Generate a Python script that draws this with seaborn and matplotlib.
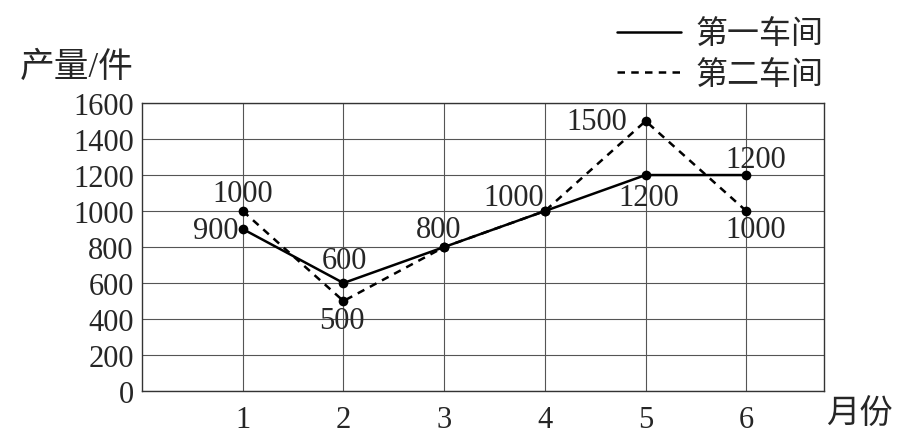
import matplotlib
matplotlib.use("Agg")
import matplotlib.pyplot as plt
import seaborn as sns
import pandas as pd
from matplotlib.lines import Line2D

# chart values
months = [1, 2, 3, 4, 5, 6]
workshop_1 = [900, 600, 800, 1000, 1200, 1200]
workshop_2 = [1000, 500, 800, 1000, 1500, 1000]
series_names = ["第一车间", "第二车间"]
y_ticks = [0, 200, 400, 600, 800, 1000, 1200, 1400, 1600]

df = pd.DataFrame({
    "month": months * 2,
    "output": workshop_1 + workshop_2,
    "workshop": [series_names[0]] * 6 + [series_names[1]] * 6,
})

sns.set_theme(style="white")
plt.rcParams["font.family"] = ["Liberation Serif", "Noto Sans CJK SC", "DejaVu Sans"]

fig = plt.figure(figsize=(9.14, 4.39), dpi=100)
ax = fig.add_axes([0.1554, 0.107, 0.746, 0.656])

sns.lineplot(data=df, x="month", y="output", style="workshop",
             dashes={series_names[0]: "", series_names[1]: (3, 2.5)},
             markers={series_names[0]: "o", series_names[1]: "o"},
             color="black", linewidth=1.8, markersize=7,
             markeredgewidth=0, ax=ax, legend=False)

ax.set_xlim(0, 6.77)
ax.set_ylim(0, 1600)
ax.set_xticks(months)
ax.set_yticks(y_ticks)
ax.grid(True, color="#555555", linewidth=0.8)
for s in ax.spines.values():
    s.set_color("#333333")
    s.set_linewidth(1.0)
ax.tick_params(axis="y", length=0, pad=6, labelsize=22)
ax.tick_params(axis="x", length=0, pad=10, labelsize=22)
ax.set_xlabel("")
ax.set_ylabel("")

# point labels: (month index, value, dx px, dy px, ha)
labels = [
    (0, workshop_2[0], 0, 18, "center"),
    (0, workshop_1[0], -4, -1, "right"),
    (1, workshop_1[1], 1, 23, "center"),
    (1, workshop_2[1], -2, -19, "center"),
    (2, workshop_1[2], -6, 18, "center"),
    (3, workshop_1[3], -1, 14, "right"),
    (4, workshop_2[4], -18, 0, "right"),
    (4, workshop_1[4], 3, -22, "center"),
    (5, workshop_1[5], 9, 16, "center"),
    (5, workshop_2[5], 9, -18, "center"),
]
for i, v, dx, dy, ha in labels:
    ax.annotate(str(v), (months[i], v), xytext=(dx, dy), textcoords="offset pixels",
                ha=ha, va="center", fontsize=22)

# legend and axis titles
handles = [Line2D([], [], color="black", lw=1.8),
           Line2D([], [], color="black", lw=1.8, dashes=(3, 2.5))]
fig.legend(handles, series_names, loc="upper left", bbox_to_anchor=(617 / 914, 1 - 21 / 439),
           frameon=False, fontsize=23, handlelength=2.0, handletextpad=0.45,
           labelspacing=0.33, borderpad=0, borderaxespad=0)

fig.text(20 / 914, 1 - 68 / 439, "产量/件", fontsize=25, va="center", ha="left")
fig.text(826 / 914, 1 - 414 / 439, "月份", fontsize=24, va="center", ha="left")

fig.savefig("out.png", dpi=100)
